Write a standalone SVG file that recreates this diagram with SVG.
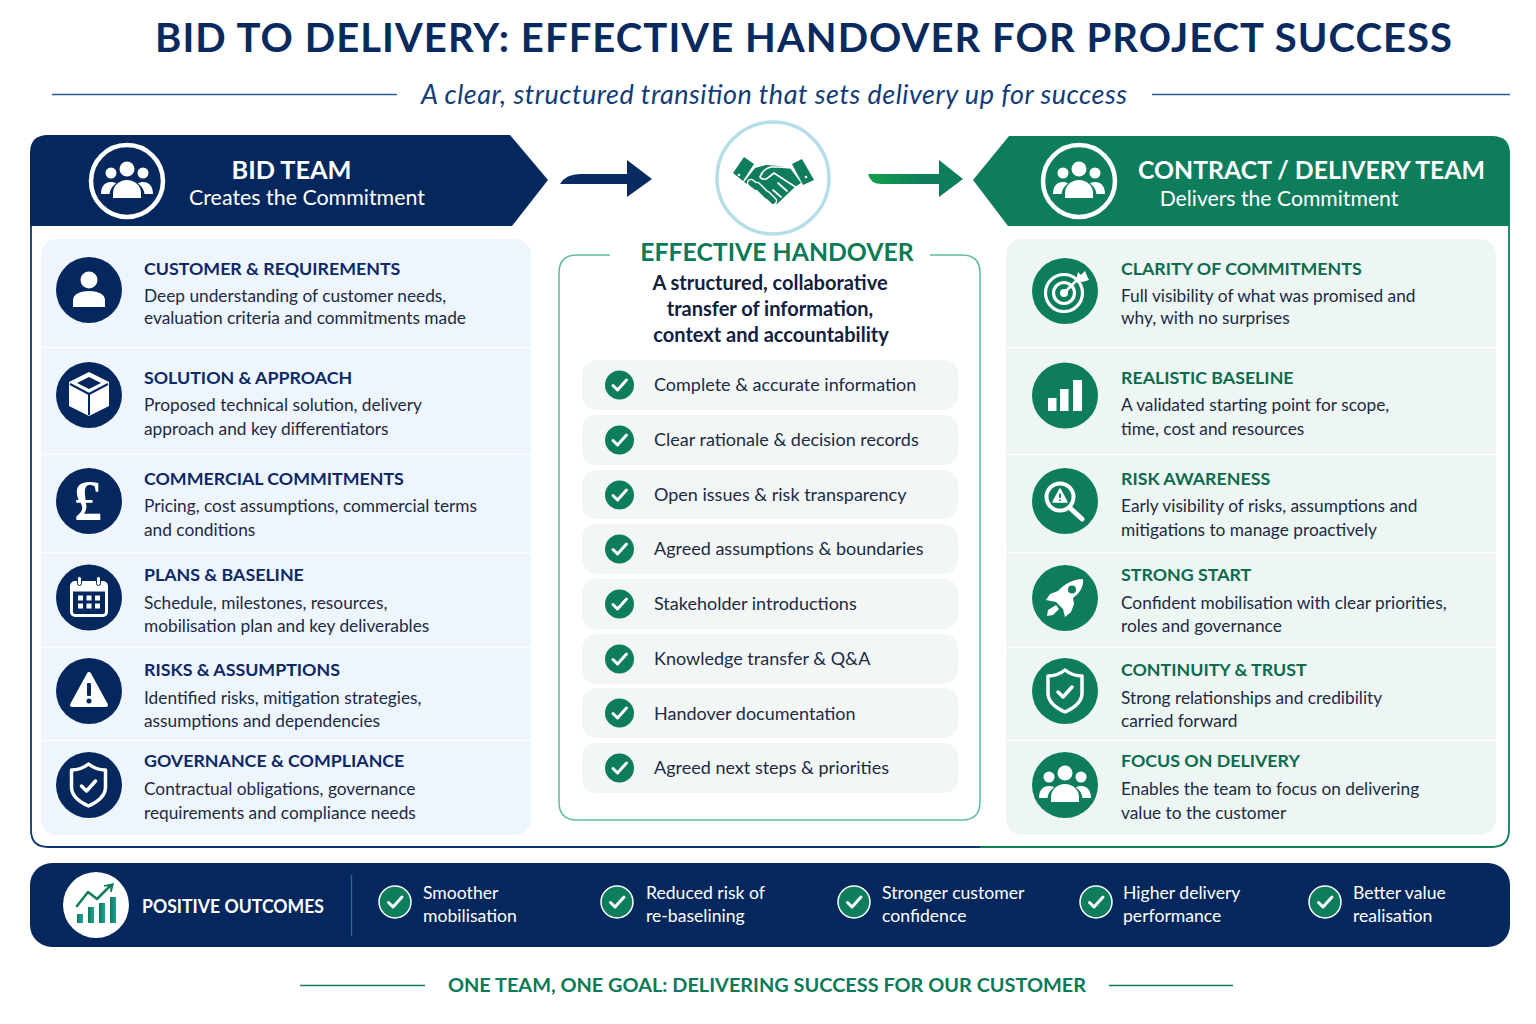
<svg xmlns="http://www.w3.org/2000/svg" width="1536" height="1024" viewBox="0 0 1536 1024">
<style>
text{font-family:"Lato","Noto Sans","Liberation Sans",sans-serif}
.h{font-size:17.800px;font-weight:700}
.hb{fill:#0c2865}.hg{fill:#0b6b4d}
.b{font-size:17.300px;fill:#1c2a44}
.c{font-size:18px;fill:#1c2a44}
.o{font-size:17.600px;fill:#fff}
.w{fill:#fff}
.nv{fill:#04285e}.gr{fill:#0e7d5c}
.ln{fill:none;stroke-linecap:round;stroke-linejoin:round}
</style>
<defs>
<linearGradient id="gA" x1="0" x2="1" y1="0" y2="0"><stop offset="0" stop-color="#14a04a"/><stop offset=".6" stop-color="#0e7d5c"/></linearGradient>
<linearGradient id="gB" x1="0" x2="1" y1="0" y2="0"><stop offset="0" stop-color="#0e7d5c"/><stop offset="1" stop-color="#1f9f9a"/></linearGradient>
<g id="people" fill="#fff">
<circle cx="0" cy="-12" r="7.500"/><circle cx="-16" cy="-8" r="5.500"/><circle cx="16" cy="-8" r="5.500"/>
<path d="M-14 17v-5a14 13 0 0 1 28 0v5z"/>
<path d="M-26 13c0-8 4-12 10-12 2 0 4 .5 5 1.500-4 3-6 6-6.500 10.500z"/><path d="M26 13c0-8-4-12-10-12-2 0-4 .5-5 1.500 4 3 6 6 6.500 10.500z"/>
</g>
<g id="shield" class="ln">
<path d="M0-21C5-17 11-15 17-15V2C17 11 9 17 0 21-9 17-17 11-17 2V-15C-11-15-5-17 0-21Z" stroke="#fff" stroke-width="3.500"/>
<path d="M-7 1L-2 6 7-4" stroke="#fff" stroke-width="3.500"/>
</g>
<g id="tick"><path class="ln" d="M-6.500 .5L-2 5 7-5" stroke="#fff" stroke-width="3"/></g>
<g id="chk"><circle r="14.500" class="gr"/><use href="#tick"/></g>
<g id="ochk"><circle r="16" class="gr" stroke="#fff" stroke-width="1.500"/><use href="#tick"/></g>
</defs>
<rect width="1536" height="1024" fill="#fff"/>

<g id="title">
<text x="155" y="52" font-size="40" font-weight="700" fill="#082a5e" textLength="1297">BID TO DELIVERY: EFFECTIVE HANDOVER FOR PROJECT SUCCESS</text>
<text x="421" y="103.600" font-size="27" font-style="italic" fill="#123b78" textLength="706">A clear, structured transition that sets delivery up for success</text>
<path d="M52 94.500H397M1152 94.500H1510" stroke="#2a5c9c" stroke-width="1.300" fill="none"/>
</g>

<g id="frame" fill="none" stroke-width="1.800">
<path d="M31 226V830Q31 847 48 847H980" stroke="#0d3470"/>
<path d="M980 847H1492Q1509 847 1509 830V226" stroke="#0e7d5c"/>
</g>

<g id="bid-team">
<path class="nv" d="M30 226V153Q30 135 48 135H510L548 180 512 226Z"/>
<circle cx="127" cy="181" r="36" fill="none" stroke="#fff" stroke-width="4.500"/>
<use href="#people" x="127" y="181"/>
<text class="w" x="291.500" y="178.600" font-size="25.300" font-weight="700" text-anchor="middle">BID TEAM</text>
<text class="w" x="307" y="205" font-size="21.400" text-anchor="middle">Creates the Commitment</text>
</g>

<g id="delivery-team">
<path class="gr" d="M1510 226V154Q1510 136 1492 136H1009L973 180 1008 226Z"/>
<circle cx="1079" cy="181" r="36" fill="none" stroke="#fff" stroke-width="4.500"/>
<use href="#people" x="1079" y="181"/>
<text class="w" x="1311.500" y="178.600" font-size="24.800" font-weight="700" text-anchor="middle">CONTRACT / DELIVERY TEAM</text>
<text class="w" x="1279" y="206" font-size="21.200" text-anchor="middle">Delivers the Commitment</text>
</g>

<g id="connectors">
<path d="M560 184Q566 174 580 174H627V160L652 179 627 197V184Z" fill="#0a2a62"/>
<path d="M868 174H939V160L963 179 939 197V184H882Q870 184 868 174Z" fill="url(#gA)"/>
</g>

<g id="handshake">
<circle cx="773" cy="178" r="56" fill="#fff" stroke="#b6dee8" stroke-width="3.500"/>
<g fill="#0e7d5c">
<path d="M733 173L744 157 754 164 743 181Z"/>
<path d="M792 164L802 159 814 180 803 185Z"/>
<path d="M755 168L766 165 779 166 790 168 801 183 795 187 777 204 771 203 762 194 744 182Z"/>
</g>
<g fill="none" stroke-linecap="round">
<path d="M756 187L751 183M762 191L757 186M767 196L762 191M773 201L767 195" stroke="#fff" stroke-width="8.500"/>
<path d="M756 187L751 183M762 191L757 186M767 196L762 191M773 201L767 195" stroke="#0e7d5c" stroke-width="5.500"/>
<path d="M791 168L779 167H771C766 168 762 172 760 177 762 180 766 180 769 177L774 173 797 188" stroke="#fff" stroke-width="1.700"/>
<path d="M787 191L778 183M781 197L773 190" stroke="#fff" stroke-width="1.700"/>
</g>
<circle cx="739" cy="175" r="1.300" fill="#fff"/><circle cx="806" cy="177" r="1.300" fill="#fff"/>
</g>

<g id="bid-panel">
<rect x="41" y="239" width="490" height="596" rx="16" fill="#eef5fc"/>
<path d="M41 347.500H531M41 454.500H531M41 552.500H531M41 647.500H531M41 740.500H531" stroke="#fff" stroke-width="1.500"/>
</g>
<g id="delivery-panel">
<rect x="1006" y="239" width="490" height="596" rx="16" fill="#edf6f2"/>
<path d="M1006 347.500H1496M1006 454.500H1496M1006 552.500H1496M1006 647.500H1496M1006 740.500H1496" stroke="#fff" stroke-width="1.500"/>
</g>

<g id="customer-requirements">
<circle class="nv" cx="89" cy="290" r="33"/>
<g transform="translate(89 290)"><circle class="w" cy="-10" r="8.500"/><path class="w" d="M-16 17V10C-16 4-8 1 0 1S16 4 16 10V17Z"/></g>
<text class="h hb" x="144" y="275.400">CUSTOMER &amp; REQUIREMENTS</text>
<text class="b" x="144" y="302">Deep understanding of customer needs,</text>
<text class="b" x="144" y="324">evaluation criteria and commitments made</text>
</g>
<g id="solution-approach">
<circle class="nv" cx="89" cy="395" r="33"/>
<g transform="translate(89 395)"><path class="w" d="M0-23L20-13V11L0 21-20 11V-13Z"/><path class="nv" d="M0-18L12-12 0-6-12-12Z"/><path d="M-19-11L0-1 19-11M0-1V20" fill="none" stroke="#04285e" stroke-width="2"/></g>
<text class="h hb" x="144" y="384.400">SOLUTION &amp; APPROACH</text>
<text class="b" x="144" y="411">Proposed technical solution, delivery</text>
<text class="b" x="144" y="435">approach and key differentiators</text>
</g>
<g id="commercial-commitments">
<circle class="nv" cx="89" cy="501" r="33"/>
<text class="w" x="88" y="520" font-size="56" font-weight="700" text-anchor="middle" style="font-family:'Liberation Serif',serif">£</text>
<text class="h hb" x="144" y="485.400">COMMERCIAL COMMITMENTS</text>
<text class="b" x="144" y="512">Pricing, cost assumptions, commercial terms</text>
<text class="b" x="144" y="536">and conditions</text>
</g>
<g id="plans-baseline">
<circle class="nv" cx="89" cy="597.500" r="33"/>
<g transform="translate(89 597.500)"><rect x="-17.500" y="-15" width="35" height="33" rx="3.500" fill="none" stroke="#fff" stroke-width="3"/><rect class="w" x="-17" y="-15" width="34" height="9"/><rect x="-11.500" y="-21" width="4" height="9" rx="2" class="w" stroke="#04285e"/><rect x="7.500" y="-21" width="4" height="9" rx="2" class="w" stroke="#04285e"/>
<g class="w"><rect x="-11" y="-2" width="5" height="5"/><rect x="-2.500" y="-2" width="5" height="5"/><rect x="6" y="-2" width="5" height="5"/><rect x="-11" y="6" width="5" height="5"/><rect x="-2.500" y="6" width="5" height="5"/><rect x="6" y="6" width="5" height="5"/></g></g>
<text class="h hb" x="144" y="581.400">PLANS &amp; BASELINE</text>
<text class="b" x="144" y="609">Schedule, milestones, resources,</text>
<text class="b" x="144" y="632">mobilisation plan and key deliverables</text>
</g>
<g id="risks-assumptions">
<circle class="nv" cx="89" cy="691" r="33"/>
<g transform="translate(89 691)"><path class="w" stroke="#fff" stroke-width="4" stroke-linejoin="round" d="M0-17L17 14H-17Z"/><rect class="nv" x="-2" y="-8" width="4" height="13" rx="1"/><circle class="nv" cy="10" r="2.500"/></g>
<text class="h hb" x="144" y="676.400">RISKS &amp; ASSUMPTIONS</text>
<text class="b" x="144" y="704">Identified risks, mitigation strategies,</text>
<text class="b" x="144" y="727">assumptions and dependencies</text>
</g>
<g id="governance-compliance">
<circle class="nv" cx="89" cy="785" r="33"/>
<use href="#shield" x="88.500" y="785"/>
<text class="h hb" x="144" y="767.400">GOVERNANCE &amp; COMPLIANCE</text>
<text class="b" x="144" y="795">Contractual obligations, governance</text>
<text class="b" x="144" y="819">requirements and compliance needs</text>
</g>

<g id="effective-handover">
<path d="M610 255H577Q559 255 559 273V802Q559 820 577 820H962Q980 820 980 802V273Q980 255 962 255H930" fill="none" stroke="#5dbba3" stroke-width="1.500"/>
<text x="777" y="260.500" font-size="24.800" font-weight="700" fill="#0b7a56" text-anchor="middle">EFFECTIVE HANDOVER</text>
<g font-size="20" font-weight="700" fill="#10203f" text-anchor="middle"><text x="770" y="290">A structured, collaborative</text><text x="770" y="316">transfer of information,</text><text x="771" y="342">context and accountability</text></g>
<g fill="#f2f7f5"><rect x="582" y="360" width="376" height="50" rx="14"/><rect x="582" y="415" width="376" height="50" rx="14"/><rect x="582" y="470" width="376" height="49" rx="14"/><rect x="582" y="524" width="376" height="50" rx="14"/><rect x="582" y="579" width="376" height="50" rx="14"/><rect x="582" y="634" width="376" height="50" rx="14"/><rect x="582" y="688" width="376" height="50" rx="14"/><rect x="582" y="743" width="376" height="50" rx="14"/></g>
<use href="#chk" x="619.500" y="385"/><use href="#chk" x="619.500" y="440"/><use href="#chk" x="619.500" y="495"/><use href="#chk" x="619.500" y="549"/><use href="#chk" x="619.500" y="604"/><use href="#chk" x="619.500" y="659"/><use href="#chk" x="619.500" y="713"/><use href="#chk" x="619.500" y="768"/>
<text class="c" x="654" y="391">Complete &amp; accurate information</text>
<text class="c" x="654" y="446">Clear rationale &amp; decision records</text>
<text class="c" x="654" y="501">Open issues &amp; risk transparency</text>
<text class="c" x="654" y="555">Agreed assumptions &amp; boundaries</text>
<text class="c" x="654" y="610">Stakeholder introductions</text>
<text class="c" x="654" y="665">Knowledge transfer &amp; Q&amp;A</text>
<text class="c" x="654" y="720">Handover documentation</text>
<text class="c" x="654" y="774">Agreed next steps &amp; priorities</text>
</g>

<g id="clarity-of-commitments">
<circle class="gr" cx="1065" cy="291" r="33"/>
<g transform="translate(1064 293)" fill="none" stroke="#fff"><circle r="18.500" stroke-width="3.200"/><circle r="10.500" stroke-width="3.200"/><circle r="4" class="w" stroke="none"/><path d="M0 0L15-15" stroke-width="2.500"/><path class="w" stroke="none" d="M12-13L14-21 17-18 21-22 23-17 25-13 18-11Z"/></g>
<text class="h hg" x="1121" y="275.400">CLARITY OF COMMITMENTS</text>
<text class="b" x="1121" y="302">Full visibility of what was promised and</text>
<text class="b" x="1121" y="324">why, with no surprises</text>
</g>
<g id="realistic-baseline">
<circle class="gr" cx="1065" cy="395.500" r="33"/>
<g class="w"><rect x="1048" y="398" width="8.500" height="13"/><rect x="1060" y="389" width="8.500" height="22"/><rect x="1073" y="380" width="9" height="31"/></g>
<text class="h hg" x="1121" y="384.400">REALISTIC BASELINE</text>
<text class="b" x="1121" y="411">A validated starting point for scope,</text>
<text class="b" x="1121" y="435">time, cost and resources</text>
</g>
<g id="risk-awareness">
<circle class="gr" cx="1065" cy="501" r="33"/>
<circle cx="1060" cy="497" r="13.500" fill="none" stroke="#fff" stroke-width="4"/>
<path d="M1070 508L1082 519" stroke="#fff" stroke-width="5" stroke-linecap="round"/>
<path class="w" stroke="#fff" stroke-width="1.500" stroke-linejoin="round" d="M1060 489L1067 502H1053Z"/><path d="M1060 493.500V498M1060 499.500V501" stroke="#0e7d5c" stroke-width="1.800"/>
<text class="h hg" x="1121" y="485.400">RISK AWARENESS</text>
<text class="b" x="1121" y="512">Early visibility of risks, assumptions and</text>
<text class="b" x="1121" y="536">mitigations to manage proactively</text>
</g>
<g id="strong-start">
<circle class="gr" cx="1065" cy="598" r="33"/>
<path class="w" d="M1083 579C1073 579 1064 584 1058 591L1050 594 1046 600 1056 602 1063 609 1065 617 1071 612 1074 604 1073 598C1080 593 1084 586 1083 579Z"/>
<path class="w" d="M1056 605L1048 610 1047 616 1053 615 1059 609Z"/>
<circle cx="1072" cy="589.500" r="4" fill="#0e7d5c"/>
<text class="h hg" x="1121" y="581.400">STRONG START</text>
<text class="b" x="1121" y="609">Confident mobilisation with clear priorities,</text>
<text class="b" x="1121" y="632">roles and governance</text>
</g>
<g id="continuity-trust">
<circle class="gr" cx="1065" cy="691" r="33"/>
<use href="#shield" x="1065" y="691"/>
<text class="h hg" x="1121" y="676.400">CONTINUITY &amp; TRUST</text>
<text class="b" x="1121" y="704">Strong relationships and credibility</text>
<text class="b" x="1121" y="727">carried forward</text>
</g>
<g id="focus-on-delivery">
<circle class="gr" cx="1065" cy="785" r="33"/>
<use href="#people" x="1065" y="785"/>
<text class="h hg" x="1121" y="767.400">FOCUS ON DELIVERY</text>
<text class="b" x="1121" y="795">Enables the team to focus on delivering</text>
<text class="b" x="1121" y="819">value to the customer</text>
</g>

<g id="positive-outcomes">
<rect class="nv" x="30" y="863" width="1480" height="84" rx="22"/>
<circle class="w" cx="96" cy="905" r="33"/>
<g fill="url(#gB)"><rect x="77" y="914" width="6" height="9"/><rect x="88" y="907" width="6" height="16"/><rect x="99" y="903" width="6" height="20"/><rect x="110" y="897" width="6" height="26"/></g>
<path class="ln" d="M77 906L88 892 97 899 110 886" stroke="#0e7d5c" stroke-width="2.500"/><path class="gr" d="M104 886L111 885 111 892 113 884Z" stroke="#0e7d5c" stroke-width="1.500"/>
<text class="w" x="142" y="913" font-size="19" font-weight="700" textLength="182" lengthAdjust="spacingAndGlyphs">POSITIVE OUTCOMES</text>
<path d="M351.500 875V936" stroke="#2c6a8a" stroke-width="1.300"/>
<use href="#ochk" x="395" y="902"/><use href="#ochk" x="617" y="902"/><use href="#ochk" x="854" y="902"/><use href="#ochk" x="1096" y="902"/><use href="#ochk" x="1325" y="902"/>
<text class="o" x="423" y="899">Smoother</text><text class="o" x="423" y="922">mobilisation</text>
<text class="o" x="646" y="899">Reduced risk of</text><text class="o" x="646" y="922">re-baselining</text>
<text class="o" x="882" y="899">Stronger customer</text><text class="o" x="882" y="922">confidence</text>
<text class="o" x="1123" y="899">Higher delivery</text><text class="o" x="1123" y="922">performance</text>
<text class="o" x="1353" y="899">Better value</text><text class="o" x="1353" y="922">realisation</text>
</g>

<g id="footer">
<path d="M300 985.500H425M1109 985.500H1233" stroke="#0e7d5c" stroke-width="1.400"/>
<text x="767" y="992" font-size="19.900" font-weight="700" fill="#0b7a56" text-anchor="middle">ONE TEAM, ONE GOAL: DELIVERING SUCCESS FOR OUR CUSTOMER</text>
</g>
</svg>
